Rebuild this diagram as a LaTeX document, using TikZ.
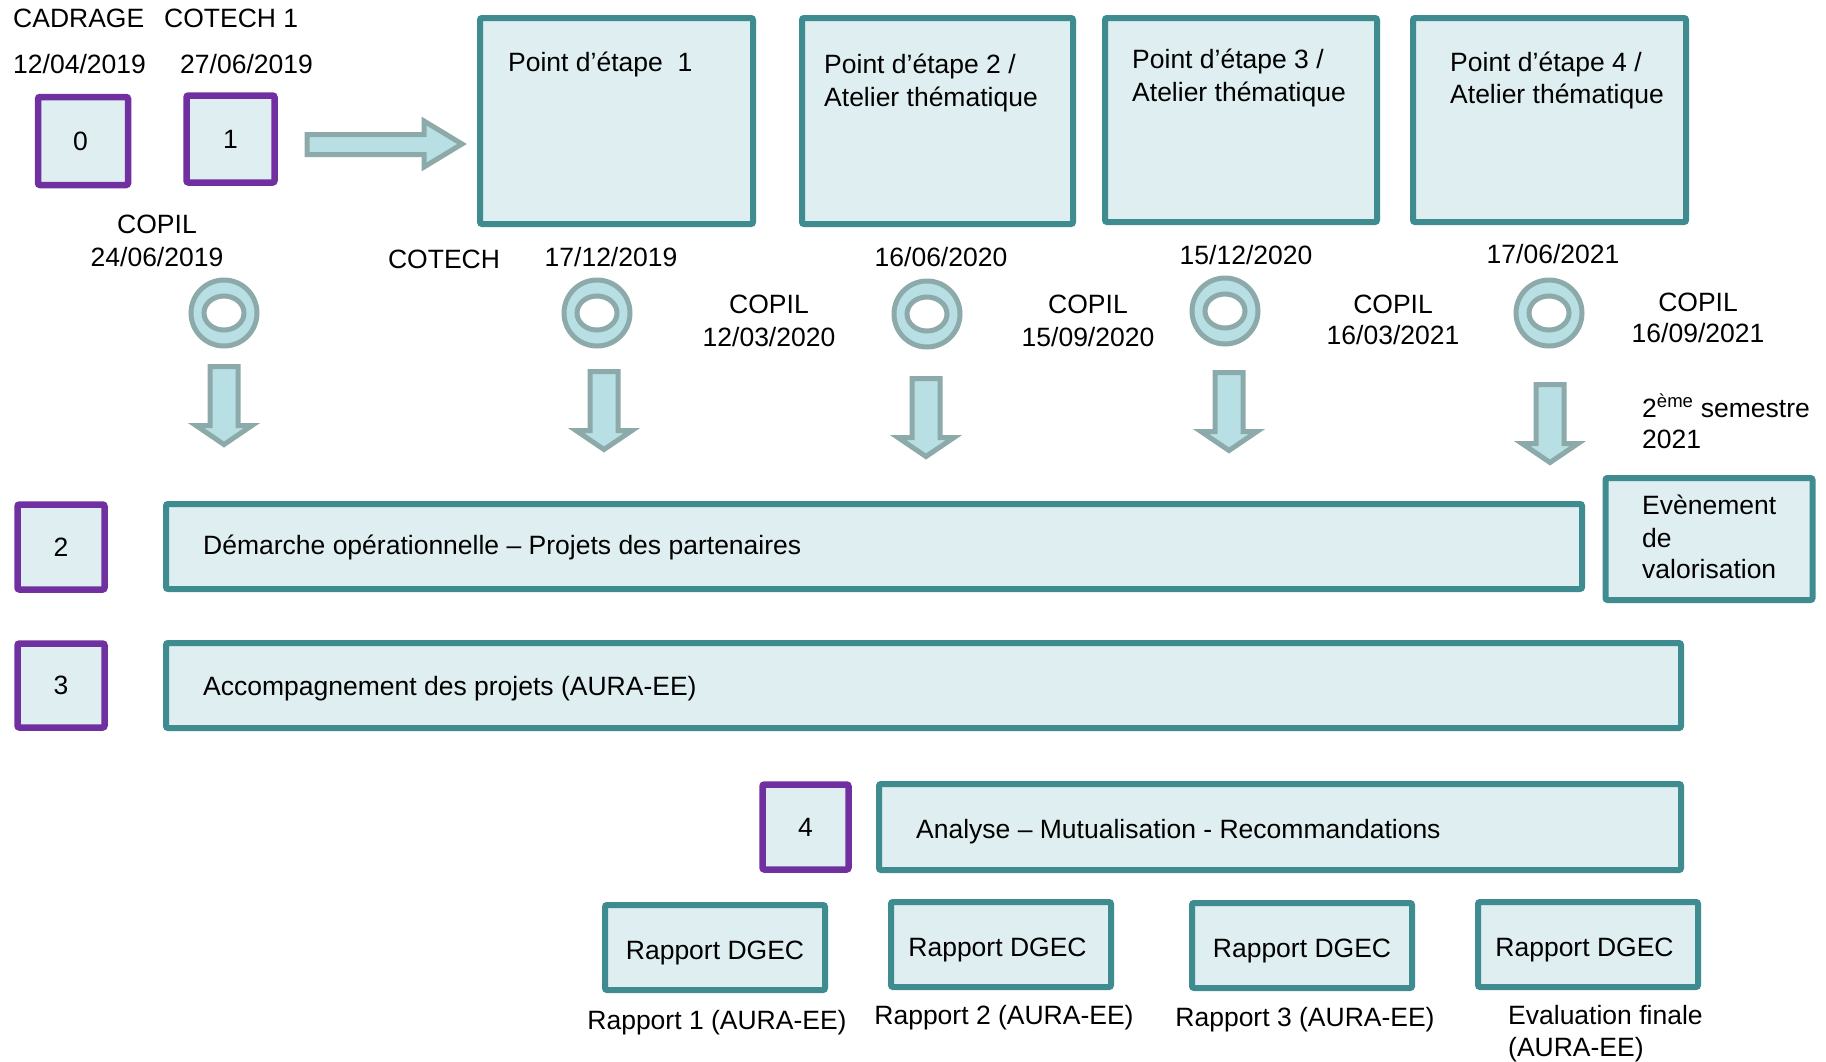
\documentclass[tikz,border=0pt]{standalone}
\usepackage{fontspec}
\setmainfont{Liberation Sans}
\definecolor{tealS}{HTML}{3E8B90}
\definecolor{fillL}{HTML}{DFEEF1}
\definecolor{purp}{HTML}{7030A0}
\definecolor{arrF}{HTML}{B8DFE3}
\definecolor{arrS}{HTML}{8DAAAA}
\newcommand{\downarr}[2]{%
  \draw[blk] (#1-14,#2) -- (#1+14,#2) -- (#1+14,#2+59) -- (#1+28,#2+59) -- (#1,#2+78) -- (#1-28,#2+59) -- (#1-14,#2+59) -- cycle;}
\newcommand{\ringmark}[2]{%
  \draw[blk, even odd rule] (#1,#2) circle[radius=33] (#1,#2) ellipse[x radius=20, y radius=17];}
\begin{document}
\begin{tikzpicture}[x=1pt,y=-1pt,
  every node/.style={font=\fontsize{26.5}{32}\selectfont},
  tbox/.style={draw=tealS, line width=6pt, fill=fillL, rounded corners=2pt, inner sep=0pt},
  pbox/.style={draw=purp, line width=6.5pt, fill=fillL, rounded corners=2pt, inner sep=0pt},
  blk/.style={draw=arrS, line width=5pt, fill=arrF, line join=miter},
  rtxt/.style={text depth=0pt, yshift=-3pt},
  lbl/.style={inner sep=0pt, anchor=base},
  lblw/.style={inner sep=0pt, anchor=base west}]
\useasboundingbox (0,0) rectangle (1826,1061);
% top-left boxes
\node[pbox, minimum width=90pt, minimum height=88pt] (b0) at (83,141) {\hspace{-5pt}0};
\node[pbox, minimum width=88pt, minimum height=87pt] (b1) at (230.5,139) {1};
\node[lblw] (cadrage) at (13,27) {CADRAGE};
\node[lblw] (cotech1) at (164,27) {COTECH 1};
\node[lblw] (d0) at (13,73) {12/04/2019};
\node[lblw] (d1) at (180,73) {27/06/2019};
% right arrow
\draw[blk] (307,134.5) -- (424,134.5) -- (424,121) -- (462,144) -- (424,167) -- (424,154.5) -- (307,154.5) -- cycle;
% point d'etape boxes
\node[tbox, minimum width=273pt, minimum height=206pt] (p1) at (616.5,121) {};
\node[tbox, minimum width=271pt, minimum height=206pt] (p2) at (937.5,121) {};
\node[tbox, minimum width=272pt, minimum height=204pt] (p3) at (1241,120) {};
\node[tbox, minimum width=273pt, minimum height=204pt] (p4) at (1549.5,120) {};
\node[lblw] (p1a) at (508,71) {Point d’étape~ 1};
\node[lblw] (p2a) at (824,73) {Point d’étape 2 /};
\node[lblw] (p2b) at (824,106) {Atelier thématique};
\node[lblw] (p3a) at (1132,68) {Point d’étape 3 /};
\node[lblw] (p3b) at (1132,101) {Atelier thématique};
\node[lblw] (p4a) at (1450,71) {Point d’étape 4 /};
\node[lblw] (p4b) at (1450,103) {Atelier thématique};
% date labels
\node[lbl] (c1a) at (157,233) {COPIL};
\node[lbl] (c1b) at (157,266) {24/06/2019};
\node[lbl] (cot) at (444,268) {COTECH};
\node[lbl] (m2) at (611,266) {17/12/2019};
\node[lbl] (c2a) at (769,313) {COPIL};
\node[lbl] (c2b) at (769,346) {12/03/2020};
\node[lbl] (m3) at (941,266) {16/06/2020};
\node[lbl] (c3a) at (1088,313) {COPIL};
\node[lbl] (c3b) at (1088,346) {15/09/2020};
\node[lbl] (m4) at (1246,264) {15/12/2020};
\node[lbl] (c4a) at (1393,313) {COPIL};
\node[lbl] (c4b) at (1393,344) {16/03/2021};
\node[lbl] (m5) at (1553,263) {17/06/2021};
\node[lbl] (c5a) at (1698,311) {COPIL};
\node[lbl] (c5b) at (1698,342) {16/09/2021};
\node[lblw] (sem1) at (1642,417) {2\textsuperscript{ème} semestre};
\node[lblw] (sem2) at (1642,448) {2021};
% rings
\ringmark{224}{313}
\ringmark{597}{313}
\ringmark{927}{314}
\ringmark{1225}{311}
\ringmark{1549}{313}
% down arrows
\downarr{224}{366.5}
\downarr{604}{371.5}
\downarr{926}{378.5}
\downarr{1229}{372.5}
\downarr{1550}{384.5}
% rows
\node[pbox, minimum width=87pt, minimum height=85pt] (b2) at (61,547) {2};
\node[tbox, minimum width=1416pt, minimum height=85pt] (bar2) at (874,546.5) {};
\node[lblw] (t2) at (203,554) {Démarche opérationnelle – Projets des partenaires};
\node[tbox, minimum width=207pt, minimum height=122pt] (ev) at (1709,539) {};
\node[lblw] (ev1) at (1642,514) {Evènement};
\node[lblw] (ev2) at (1642,547) {de};
\node[lblw] (ev3) at (1642,578) {valorisation};
\node[pbox, minimum width=87pt, minimum height=84pt] (b3) at (61,685.5) {3};
\node[tbox, minimum width=1515pt, minimum height=85pt] (bar3) at (923.5,685.5) {};
\node[lblw] (t3) at (203,695) {Accompagnement des projets (AURA-EE)};
\node[pbox, minimum width=86pt, minimum height=85pt] (b4) at (805.5,827) {4};
\node[tbox, minimum width=802pt, minimum height=86pt] (bar4) at (1280,827) {};
\node[lblw] (t4) at (916,838) {Analyse – Mutualisation - Recommandations};
% rapports
\node[tbox, minimum width=220pt, minimum height=85pt] (r1) at (715,947.5) {};
\node[tbox, minimum width=220pt, minimum height=85pt] (r2) at (1001,944.5) {};
\node[tbox, minimum width=220pt, minimum height=85pt] (r3) at (1302,945.5) {};
\node[tbox, minimum width=220pt, minimum height=85pt] (r4) at (1588,944.5) {};
\node[rtxt, inner sep=0pt] (r1t) at (r1.center) {Rapport DGEC};
\node[rtxt, inner sep=0pt, xshift=-3.5pt] (r2t) at (r2.center) {Rapport DGEC};
\node[rtxt, inner sep=0pt] (r3t) at (r3.center) {Rapport DGEC};
\node[rtxt, inner sep=0pt, xshift=-3.5pt] (r4t) at (r4.center) {Rapport DGEC};
\node[lbl] (rc1) at (717,1029) {Rapport 1 (AURA-EE)};
\node[lbl] (rc2) at (1004,1024) {Rapport 2 (AURA-EE)};
\node[lbl] (rc3) at (1305,1026) {Rapport 3 (AURA-EE)};
\node[lblw] (rc4a) at (1508,1024) {Evaluation finale};
\node[lblw] (rc4b) at (1508,1056) {(AURA-EE)};
\end{tikzpicture}
\end{document}
